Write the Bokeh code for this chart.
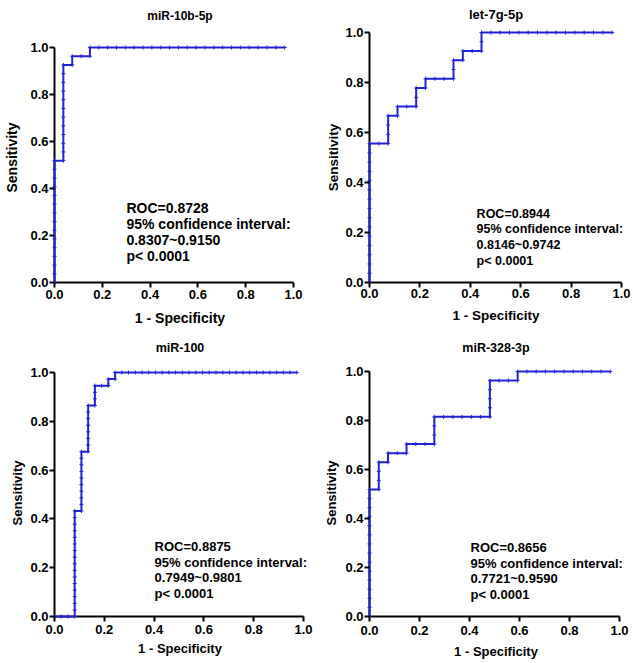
from bokeh.plotting import figure
from bokeh.layouts import column, row
from bokeh.models import Range1d, Label, FixedTicker
from bokeh.embed import file_html
from bokeh.resources import INLINE

# ---------------- data ----------------
TICKS = [0.0, 0.2, 0.4, 0.6, 0.8, 1.0]
TICK_LABELS = ["0.0", "0.2", "0.4", "0.6", "0.8", "1.0"]

TITLES = ["miR-10b-5p", "let-7g-5p", "miR-100", "miR-328-3p"]
STATS = [
    ["ROC=0.8728", "95% confidence interval:", "0.8307~0.9150", "p< 0.0001"],
    ["ROC=0.8944", "95% confidence interval:", "0.8146~0.9742", "p< 0.0001"],
    ["ROC=0.8875", "95% confidence interval:", "0.7949~0.9801", "p< 0.0001"],
    ["ROC=0.8656", "95% confidence interval:", "0.7721~0.9590", "p< 0.0001"],
]

# ROC points as counts (false positives, true positives)
N_M10 = 27
M10_FP = [0, 0, 0, 0, 0, 0, 0, 0, 0, 0, 0, 0, 0, 0, 0,
          1, 1, 1, 1, 1, 1, 1, 1, 1, 1, 1, 1,
          2, 2, 3, 4, 4,
          5, 6, 7, 8, 9, 10, 11, 12, 13, 14, 15, 16, 17, 18, 19, 20, 21, 22, 23, 24, 25, 26]
M10_TP = [0, 1, 2, 3, 4, 5, 6, 7, 8, 9, 10, 11, 12, 13, 14,
          14, 15, 16, 17, 18, 19, 20, 21, 22, 23, 24, 25,
          25, 26, 26, 26, 27,
          27, 27, 27, 27, 27, 27, 27, 27, 27, 27, 27, 27, 27, 27, 27, 27, 27, 27, 27, 27, 27, 27]

N_LET7 = 27
LET7_FP = [0, 0, 0, 0, 0, 0, 0, 0, 0, 0, 0, 0, 0, 0, 0, 0,
           1, 2, 2, 2, 2, 3, 3, 4, 5, 5, 5, 6, 6, 7, 8, 9, 9, 9, 10, 10, 11, 12, 12, 12,
           13, 14, 15, 16, 17, 18, 19, 20, 21, 22, 23, 24, 25, 26]
LET7_TP = [0, 1, 2, 3, 4, 5, 6, 7, 8, 9, 10, 11, 12, 13, 14, 15,
           15, 15, 16, 17, 18, 18, 19, 19, 19, 20, 21, 21, 22, 22, 22, 22, 23, 24, 24, 25, 25, 25, 26, 27,
           27, 27, 27, 27, 27, 27, 27, 27, 27, 27, 27, 27, 27, 27]

N_M100 = 37
M100_FP = [0, 1, 2,
           3, 3, 3, 3, 3, 3, 3, 3, 3, 3, 3, 3, 3, 3, 3, 3, 3,
           4, 4, 4, 4, 4, 4, 4, 4, 4, 4,
           5, 5, 5, 5, 5, 5, 5, 5,
           6, 6, 6, 6, 7, 8, 8, 9, 9,
           10, 11, 12, 13, 14, 15, 16, 17, 18, 19, 20, 21, 22, 23, 24, 25, 26, 27, 28,
           29, 30, 31, 32, 33, 34, 35, 36]
M100_TP = [0, 0, 0,
           0, 1, 2, 3, 4, 5, 6, 7, 8, 9, 10, 11, 12, 13, 14, 15, 16,
           16, 17, 18, 19, 20, 21, 22, 23, 24, 25,
           25, 26, 27, 28, 29, 30, 31, 32,
           32, 33, 34, 35, 35, 35, 36, 36, 37,
           37, 37, 37, 37, 37, 37, 37, 37, 37, 37, 37, 37, 37, 37, 37, 37, 37, 37, 37,
           37, 37, 37, 37, 37, 37, 37, 37]

N_M328 = 27
M328_FP = [0, 0, 0, 0, 0, 0, 0, 0, 0, 0, 0, 0, 0, 0, 0,
           1, 1, 1, 1, 2, 2, 3, 4, 4, 5, 6, 7, 7, 7, 7,
           8, 9, 10, 11, 12, 13, 13, 13, 13, 13, 14, 15, 16, 16,
           17, 18, 19, 20, 21, 22, 23, 24, 25, 26]
M328_TP = [0, 1, 2, 3, 4, 5, 6, 7, 8, 9, 10, 11, 12, 13, 14,
           14, 15, 16, 17, 17, 18, 18, 18, 19, 19, 19, 19, 20, 21, 22,
           22, 22, 22, 22, 22, 22, 23, 24, 25, 26, 26, 26, 26, 27,
           27, 27, 27, 27, 27, 27, 27, 27, 27, 27]

# ---------------- style ----------------
FONT = "Liberation Sans"
BLUE = "#2222d6"
PAD = 5  # px between frame edge (left/bottom) and the 0 line = tick length


def make_panel(title, fp, tp, n, stats, g):
    ux, uy = g["ux"], g["uy"]
    p = figure(frame_width=g["fw"], frame_height=g["fh"],
               min_border_left=g["l"], min_border_right=g["r"],
               min_border_top=g["t"], min_border_bottom=g["b"],
               x_range=Range1d(-PAD / ux, (g["fw"] - PAD) / ux),
               y_range=Range1d(-PAD / uy, (g["fh"] - PAD) / uy),
               output_backend="svg", toolbar_location=None,
               title=title)
    p.title.text_font = FONT
    p.title.text_font_style = "bold"
    p.title.text_font_size = g["tfs"]
    p.title.text_color = "black"
    p.title.align = "center"
    p.title.vertical_align = g["tva"]
    p.title.standoff = g["ts"]
    p.title.offset = g["to"]
    p.outline_line_color = None
    p.xgrid.visible = False
    p.ygrid.visible = False

    for ax in (p.xaxis[0], p.yaxis[0]):
        ax.ticker = FixedTicker(ticks=TICKS)
        ax.major_label_overrides = dict(zip(TICKS, TICK_LABELS))
        ax.axis_line_color = None
        ax.major_tick_line_width = 2
        ax.major_tick_line_color = "black"
        ax.major_tick_out = 0
        ax.major_tick_in = PAD
        ax.minor_tick_line_color = None
        ax.major_label_text_font = FONT
        ax.major_label_text_font_style = "bold"
        ax.major_label_text_font_size = "13px"
        ax.major_label_text_color = "black"
        ax.axis_label_text_font = FONT
        ax.axis_label_text_font_style = "bold"
        ax.axis_label_text_font_size = g["afs"]
        ax.axis_label_text_color = "black"
    p.xaxis.axis_label = "1 - Specificity"
    p.yaxis.axis_label = "Sensitivity"
    p.xaxis.major_label_standoff = g["xlst"]
    p.yaxis.major_label_standoff = g["ylst"]
    p.xaxis.axis_label_standoff = g["xls"]
    p.yaxis.axis_label_standoff = g["yls"]

    # axis lines along x = 0 and y = 0
    p.segment(x0=[TICKS[0], TICKS[0]], y0=[TICKS[0], TICKS[0]],
              x1=[TICKS[0], TICKS[-1]], y1=[TICKS[-1], TICKS[0]],
              line_color="black", line_width=2)

    fpr = [v / n for v in fp]
    tpr = [v / n for v in tp]
    p.line(fpr, tpr, line_color=BLUE, line_width=2)
    p.scatter(fpr, tpr, marker="cross", size=4, line_color=BLUE, line_width=1)

    for i, s in enumerate(stats):
        p.add_layout(Label(x=g["tx"], y=g["ty"] - i * g["dy"], text=s,
                           text_font=FONT, text_font_style="bold",
                           text_font_size=g["sfs"], text_color="black",
                           text_baseline="middle", text_align="left"))
    return p


# column 1: l=49, fw=261, r=4 ; column 2: l=50, fw=263, r=6
# row 1: t=27, fh=260, b=41 ; row 2: t=36, fh=257, b=41
G1 = dict(fw=261, fh=260, l=49, r=4, t=27, b=41, ux=239, uy=235,
          ts=9, to=-9, tva="bottom", tfs="12px", afs="14px", sfs="14px",
          xlst=2, xls=8, ylst=1, yls=7,
          tx=0.301, ty=0.315, dy=0.068)
G2 = dict(fw=263, fh=260, l=50, r=6, t=27, b=41, ux=252, uy=250,
          ts=10, to=2, tva="middle", tfs="13px", afs="13.5px", sfs="12.5px",
          xlst=1, xls=7, ylst=1, yls=1,
          tx=0.425, ty=0.276, dy=0.063)
G3 = dict(fw=261, fh=257, l=49, r=4, t=36, b=41, ux=249, uy=244,
          ts=17, to=0, tva="middle", tfs="12.5px", afs="13px", sfs="13px",
          xlst=3, xls=4, ylst=1, yls=2,
          tx=0.402, ty=0.287, dy=0.0643)
G4 = dict(fw=263, fh=257, l=50, r=6, t=36, b=41, ux=250, uy=245,
          ts=18, to=0, tva="middle", tfs="12.5px", afs="13px", sfs="13px",
          xlst=4, xls=6, ylst=1, yls=3,
          tx=0.404, ty=0.282, dy=0.064)

p1 = make_panel(TITLES[0], M10_FP, M10_TP, N_M10, STATS[0], G1)
p2 = make_panel(TITLES[1], LET7_FP, LET7_TP, N_LET7, STATS[1], G2)
p3 = make_panel(TITLES[2], M100_FP, M100_TP, N_M100, STATS[2], G3)
p4 = make_panel(TITLES[3], M328_FP, M328_TP, N_M328, STATS[3], G4)

layout = column(row(p1, p2), row(p3, p4))
open("out.html", "w").write(file_html(layout, INLINE))
